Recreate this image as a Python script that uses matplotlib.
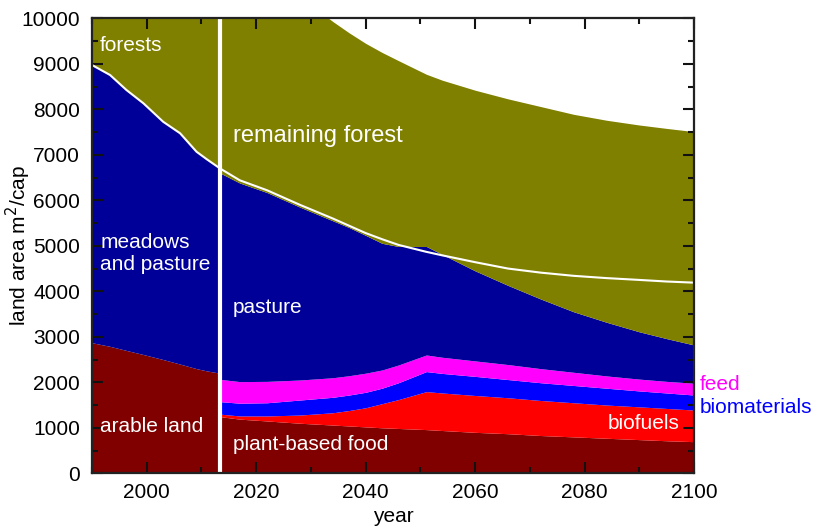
import matplotlib
matplotlib.use("Agg")
import matplotlib.pyplot as plt
from matplotlib.ticker import MultipleLocator

plt.rcParams['font.family'] = ['Liberation Sans', 'DejaVu Sans']

# ---------------- data ----------------
# historical period (1990-2013): boundaries (m2/cap)
hist_years = [1990, 1993.3, 1996.3, 1999.4, 2003, 2006.1, 2009.1, 2011, 2013.4]
arable_top = [2870, 2790, 2700, 2610, 2500, 2400, 2300, 2250, 2200]
meadows_top = [8974, 8754, 8424, 8132, 7727, 7473, 7068, 6900, 6700]

# scenario period (2013-2100): cumulative boundaries (m2/cap)
fut_years = [2013.4, 2017, 2022, 2028, 2034, 2037, 2040, 2043, 2046, 2051.1, 2054,
             2060, 2066, 2072, 2078, 2084, 2090, 2095, 2100]
food_top = [1245, 1190, 1150, 1100, 1060, 1040, 1020, 1000, 985, 960, 940,
            900, 870, 830, 800, 770, 740, 715, 695]
biofuels_top = [1300, 1260, 1260, 1280, 1330, 1380, 1440, 1530, 1620, 1795, 1765,
                1710, 1660, 1600, 1550, 1500, 1460, 1425, 1390]
biomat_top = [1575, 1540, 1550, 1610, 1670, 1720, 1780, 1870, 1990, 2235, 2195,
              2130, 2060, 1990, 1930, 1870, 1810, 1765, 1720]
feed_top = [2065, 2015, 2020, 2050, 2100, 2145, 2200, 2270, 2380, 2600, 2550,
            2470, 2390, 2300, 2220, 2140, 2070, 2020, 1980]
pasture_top = [6600, 6380, 6170, 5850, 5550, 5400, 5230, 5055, 4985, 4985, 4810,
               4450, 4130, 3830, 3550, 3320, 3110, 2960, 2820]
forest_top = [11900, 11550, 11050, 10480, 9930, 9680, 9450, 9250, 9070, 8770, 8640,
              8420, 8230, 8060, 7890, 7760, 7655, 7580, 7510]

# reference (white) line
ref_years = hist_years + [2017, 2022, 2028, 2034, 2040, 2043, 2046, 2051, 2054, 2060,
                          2066, 2072, 2078, 2084, 2090, 2095, 2100]
ref_vals = meadows_top + [6440, 6220, 5900, 5600, 5280, 5145, 5020, 4870, 4790, 4640,
                          4500, 4410, 4340, 4290, 4250, 4215, 4190]

divider_year = 2013.4

c_forest = '#808000'
c_pasture = '#000099'
c_arable = '#800000'
c_feed = '#ff00ff'
c_biomat = '#0000ff'
c_biofuel = '#ff0000'

# ---------------- plot ----------------
fig = plt.figure(figsize=(8.19, 5.31), dpi=100)
ax = fig.add_axes([0.1123, 0.1087, 0.7351, 0.8568])

YMAX = 10000
ax.set_xlim(1990, 2100)
ax.set_ylim(0, YMAX)

# historical
ax.fill_between(hist_years, 0, arable_top, color=c_arable, lw=0)
ax.fill_between(hist_years, arable_top, meadows_top, color=c_pasture, lw=0)
ax.fill_between(hist_years, meadows_top, YMAX, color=c_forest, lw=0)

# scenario
ax.fill_between(fut_years, 0, food_top, color=c_arable, lw=0)
ax.fill_between(fut_years, food_top, biofuels_top, color=c_biofuel, lw=0)
ax.fill_between(fut_years, biofuels_top, biomat_top, color=c_biomat, lw=0)
ax.fill_between(fut_years, biomat_top, feed_top, color=c_feed, lw=0)
ax.fill_between(fut_years, feed_top, pasture_top, color=c_pasture, lw=0)
ax.fill_between(fut_years, pasture_top, forest_top, color=c_forest, lw=0)

ax.plot(ref_years, ref_vals, color='white', lw=1.5)
ax.axvline(divider_year, color='white', lw=3)

# labels
fs = 15
tc = 'white'
ax.text(1991.5, 9413, 'forests', color=tc, fontsize=fs, va='center')
ax.text(2015.8, 7413, 'remaining forest', color=tc, fontsize=17, va='center')
ax.text(1991.5, 4830, 'meadows\nand pasture', color=tc, fontsize=fs, va='center',
        linespacing=1.25)
ax.text(2015.8, 3633, 'pasture', color=tc, fontsize=fs, va='center')
ax.text(1991.5, 1018, 'arable land', color=tc, fontsize=fs, va='center')
ax.text(2015.8, 622, 'plant-based food', color=tc, fontsize=fs, va='center')
ax.text(2084.3, 1084, 'biofuels', color=tc, fontsize=fs, va='center')
ax.text(2101, 1941, 'feed', color=c_feed, fontsize=fs, va='center', clip_on=False)
ax.text(2101, 1435, 'biomaterials', color=c_biomat, fontsize=fs, va='center', clip_on=False)

ax.set_xlabel('year', fontsize=15)
ax.set_ylabel('land area m$^2$/cap', fontsize=15)
ax.xaxis.set_label_coords(0.5, -0.075)
ax.yaxis.set_label_coords(-0.098, 0.5)

ax.xaxis.set_major_locator(MultipleLocator(20))
ax.xaxis.set_minor_locator(MultipleLocator(10))
ax.yaxis.set_major_locator(MultipleLocator(1000))
ax.yaxis.set_minor_locator(MultipleLocator(500))
ax.tick_params(which='both', direction='in', top=True, right=True, labelsize=15,
               width=1.5, color='#111111')
ax.tick_params(which='major', length=8)
ax.tick_params(axis='x', which='major', pad=7)
ax.tick_params(axis='y', which='major', pad=8.5)
ax.tick_params(which='minor', length=4)
for s in ax.spines.values():
    s.set_linewidth(1.6)
    s.set_color('#222222')
    s.set_zorder(5)

fig.savefig('out.png', dpi=100)
